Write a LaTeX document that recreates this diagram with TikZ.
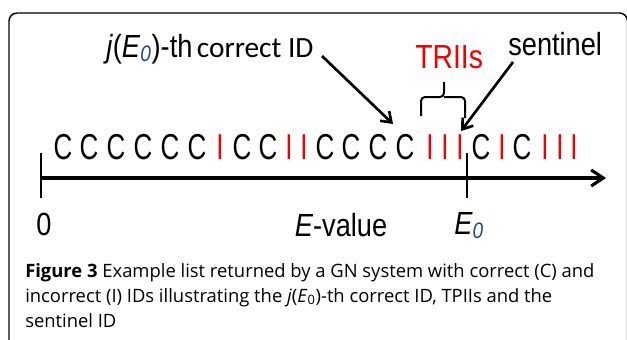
\documentclass[tikz,border=0pt]{standalone}
\usepackage{fontspec}
\usetikzlibrary{arrows.meta}
\newfontfamily\narrowfont[FakeStretch=0.85]{Liberation Sans}
\newfontfamily\idfont[FakeStretch=0.72]{Liberation Sans}
\newfontfamily\calfont{Carlito}
\newfontfamily\capfont{Open Sans}
\definecolor{idred}{RGB}{240,0,0}
\definecolor{subblue}{RGB}{40,70,125}
\tikzset{
  idC/.style={anchor=base, inner sep=0pt, font=\idfont\fontsize{27}{30}\selectfont},
  idI/.style={anchor=base, inner sep=0pt, text=idred, font=\idfont\fontsize{27}{30}\selectfont},
  lbl/.style={anchor=base west, inner sep=0pt},
  axislbl/.style={anchor=base, inner sep=0pt, font=\narrowfont\fontsize{24}{28}\selectfont},
  pointer/.style={line width=2pt, -{Straight Barb[length=7pt,width=10pt,line width=2pt]}},
  axisline/.style={line width=2.3pt, -{Straight Barb[length=9pt,width=12pt,line width=2.3pt]}},
  tick/.style={line width=1.5pt},
  capline/.style={anchor=base west, inner sep=0pt, font=\capfont\fontsize{13.8}{16}\selectfont},
}
\begin{document}
\begin{tikzpicture}[x=0.75pt,y=-0.75pt]
\useasboundingbox (0,0) rectangle (627,339);
% frame
\begin{scope}
  \clip (0,0) rectangle (627,339);
  \draw[line width=1.1pt, rounded corners=6pt] (9,13) rectangle (627.5,370);
\end{scope}

% sequence of returned IDs
\foreach \x/\t [count=\i] in {63/C,89/C,116/C,143/C,170/C,197/C,220/I,242/C,268/C,289/I,304/I,325/C,351/C,378/C,405/C,430/I,445/I,460/I,481/C,502/I,522/C,545/I,560/I,574/I}
  \node[id\t] (id\i) at (\x,159) {\t};

% E-value axis
\coordinate (ax0) at (41,178);
\coordinate (axE) at (606,178);
\coordinate (e0) at (467,178);
\draw[axisline] (ax0) -- (axE);
\draw[tick] ([yshift=-15]ax0) -- ([yshift=19]ax0);
\draw[tick] ([yshift=-15]e0) -- ([yshift=19]e0);
\node[axislbl] (zero) at (44,235) {0};
\node[axislbl] (evalue) at (341,236) {\textit{E}-value};
\node[axislbl, anchor=base west] (e0lbl) at (454,234) {\textit{E}\textsubscript{\textit{\color{subblue}0}}};

% annotations
\node[lbl] (jlab) at (106,57) {{\narrowfont\fontsize{24}{28}\selectfont \textit{j}(\textit{E}\textsubscript{\textit{\color{subblue}0}})-th} {\calfont\fontsize{22}{26}\selectfont correct ID}};
\node[lbl, text=idred, font=\narrowfont\fontsize{25}{30}\selectfont] (trii) at (415,68) {TRIIs};
\node[lbl, font=\narrowfont\fontsize{24}{28}\selectfont] (sent) at (508,55) {sentinel};

\coordinate (jstart) at (322,56);
\coordinate (jtip) at (393,124);
\coordinate (sstart) at (513,62);
\coordinate (stip) at (461,131);
\draw[pointer] (jstart) -- (jtip);
\draw[pointer] (sstart) -- (stip);

% brace over the TRIIs
\draw[line width=1.5pt, rounded corners=3pt] (421,116) |- (444,97) -- (444,82);
\draw[line width=1.5pt, rounded corners=3pt] (465,118) |- (444,97);

% caption
\node[capline] (cap1) at (25,277) {\textbf{Figure 3} Example list returned by a GN system with correct (C) and};
\node[capline] (cap2) at (25,302) {incorrect (I) IDs illustrating the \textit{j}(\textit{E}\textsubscript{0})-th correct ID, TPIIs and the};
\node[capline] (cap3) at (25,327) {sentinel ID};
\end{tikzpicture}
\end{document}
